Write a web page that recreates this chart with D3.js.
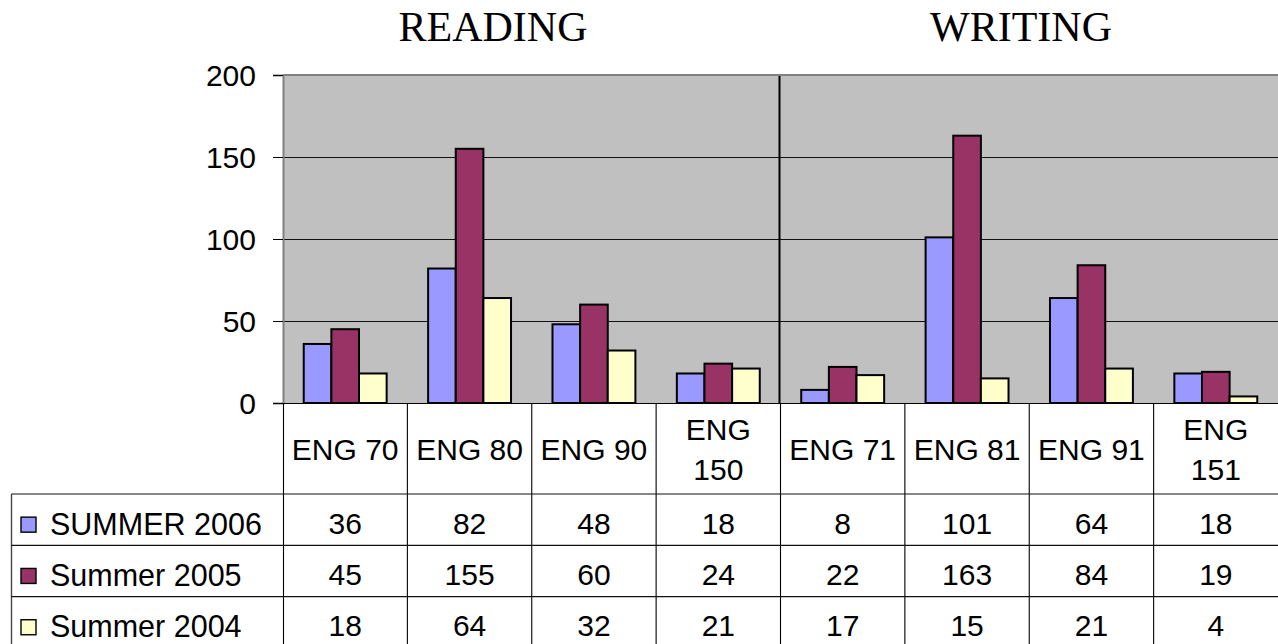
<!DOCTYPE html>
<html>
<head>
<meta charset="utf-8">
<script src="https://cdn.jsdelivr.net/npm/d3@7"></script>
<style>
  html, body { margin: 0; padding: 0; background: #fff; }
  svg { display: block; }
</style>
</head>
<body>
<svg id="chart" width="1278" height="644"></svg>
<script>
// ---- data ----
const categories = ["ENG 70", "ENG 80", "ENG 90", "ENG 150", "ENG 71", "ENG 81", "ENG 91", "ENG 151"];
const seriesNames = ["SUMMER 2006", "Summer 2005", "Summer 2004"];
const summer2006 = [36, 82, 48, 18, 8, 101, 64, 18];
const summer2005 = [45, 155, 60, 24, 22, 163, 84, 19];
const summer2004 = [18, 64, 32, 21, 17, 15, 21, 4];
const yTicks = [0, 50, 100, 150, 200];
const groupTitles = ["READING", "WRITING"];

const seriesValues = [summer2006, summer2005, summer2004];
const colors = ["#9999FF", "#993366", "#FFFFCC"];

// ---- layout ----
const svg = d3.select("#chart");
const plotL = 283, plotR = 1278, plotT = 75, plotB = 403;
const tableL = 11.5;
const rowH = 51.3;
const headerBottom = 494;
const sansFont = "'Liberation Sans', Arial, sans-serif";
const serifFont = "'Liberation Serif', 'Times New Roman', serif";

const x = d3.scaleBand().domain(categories).range([plotL, plotR]).paddingInner(0).paddingOuter(0);
const xs = d3.scaleBand().domain(seriesNames).range([0, x.bandwidth()]).paddingInner(0).paddingOuter(0.75);
const y = d3.scaleLinear().domain([0, 200]).range([plotB, plotT]);

// plot background
svg.append("rect").attr("x", plotL).attr("y", plotT).attr("width", plotR - plotL).attr("height", plotB - plotT)
  .attr("fill", "#C0C0C0");

// gridlines
svg.append("g").selectAll("line").data(yTicks.filter(d => d > 0 && d < 200)).join("line")
  .attr("x1", plotL).attr("x2", plotR)
  .attr("y1", d => Math.round(y(d)) + 0.5).attr("y2", d => Math.round(y(d)) + 0.5)
  .attr("stroke", "#111").attr("stroke-width", 1);

// top border (gray)
svg.append("line").attr("x1", plotL).attr("x2", plotR).attr("y1", plotT).attr("y2", plotT)
  .attr("stroke", "#808080").attr("stroke-width", 2);

// divider between READING and WRITING
const divX = x(categories[4]) - 1;
svg.append("line").attr("x1", divX).attr("x2", divX).attr("y1", plotT + 1).attr("y2", plotB)
  .attr("stroke", "#000").attr("stroke-width", 2);

// bars
const barG = svg.append("g");
seriesValues.forEach((vals, si) => {
  barG.append("g").selectAll("rect").data(vals).join("rect")
    .attr("x", (d, i) => x(categories[i]) + xs(seriesNames[si]))
    .attr("y", d => y(d))
    .attr("width", xs.bandwidth())
    .attr("height", d => plotB - y(d))
    .attr("fill", colors[si])
    .attr("stroke", "#000")
    .attr("stroke-width", 2);
});

// y axis
const yAxis = d3.axisLeft(y).tickValues(yTicks).tickSize(10).tickPadding(17);
const yg = svg.append("g").attr("transform", `translate(${plotL},0)`).call(yAxis);
yg.select(".domain").attr("stroke", "#808080").attr("stroke-width", 2);
yg.selectAll(".tick line").attr("stroke", "#000");
yg.selectAll(".tick text").attr("font-family", sansFont).attr("font-size", 30).attr("fill", "#000")
  .attr("dy", "0.36em");

// baseline (x axis)
svg.append("line").attr("x1", plotL - 10).attr("x2", plotR).attr("y1", plotB + 0.5).attr("y2", plotB + 0.5)
  .attr("stroke", "#000").attr("stroke-width", 1.2);

// group titles
const titleX = [493, 1021];
svg.append("g").selectAll("text").data(groupTitles).join("text")
  .attr("x", (d, i) => titleX[i]).attr("y", 41)
  .attr("text-anchor", "middle")
  .attr("font-family", serifFont).attr("font-size", 42).attr("fill", "#000")
  .text(d => d);

// ---- data table ----
const tableBottom = 644;
const tg = svg.append("g");
// vertical lines at category boundaries
const bounds = categories.map(c => x(c)).concat([plotR]);
tg.selectAll("line.v").data(bounds.slice(1, -1)).join("line")
  .attr("class", "v")
  .attr("x1", d => d).attr("x2", d => d)
  .attr("y1", plotB).attr("y2", tableBottom)
  .attr("stroke", "#000").attr("stroke-width", 1.1);
// plot-left boundary below axis
tg.append("line").attr("x1", plotL + 0.5).attr("x2", plotL + 0.5).attr("y1", plotB).attr("y2", tableBottom)
  .attr("stroke", "#000").attr("stroke-width", 1.1);
// left border of table
tg.append("line").attr("x1", tableL).attr("x2", tableL).attr("y1", headerBottom).attr("y2", tableBottom)
  .attr("stroke", "#444").attr("stroke-width", 1.4);
// horizontal row lines
const rowTops = seriesNames.map((s, i) => headerBottom + i * rowH);
tg.selectAll("line.h").data(rowTops).join("line")
  .attr("class", "h")
  .attr("x1", tableL).attr("x2", plotR)
  .attr("y1", d => d).attr("y2", d => d)
  .attr("stroke", "#111").attr("stroke-width", 1.2);

// category header labels (wrap if too wide)
const headerMid = (plotB + headerBottom) / 2;
const measure = svg.append("text").attr("font-family", sansFont).attr("font-size", 30).attr("visibility", "hidden");
categories.forEach(c => {
  measure.text(c);
  const w = measure.node().getComputedTextLength();
  const lines = (w > x.bandwidth() - 10) ? c.split(" ") : [c];
  const lh = 40;
  const t = tg.append("text")
    .attr("x", x(c) + x.bandwidth() / 2)
    .attr("text-anchor", "middle")
    .attr("font-family", sansFont).attr("font-size", 30).attr("fill", "#000");
  lines.forEach((ln, i) => {
    t.append("tspan")
      .attr("x", x(c) + x.bandwidth() / 2)
      .attr("y", headerMid + (i - (lines.length - 1) / 2) * lh + 11)
      .text(ln);
  });
});
measure.remove();

// rows: legend key + values
seriesNames.forEach((s, si) => {
  const cy = rowTops[si] + rowH / 2 + 5;
  tg.append("rect").attr("x", 21).attr("y", cy - 7.5).attr("width", 15).attr("height", 15)
    .attr("fill", colors[si]).attr("stroke", "#000").attr("stroke-width", 1.4);
  tg.append("text").attr("x", 50).attr("y", cy + 10)
    .attr("font-family", sansFont).attr("font-size", 30.5).attr("fill", "#000").text(s);
  tg.append("g").selectAll("text").data(seriesValues[si]).join("text")
    .attr("x", (d, i) => x(categories[i]) + x.bandwidth() / 2)
    .attr("y", cy + 9)
    .attr("text-anchor", "middle")
    .attr("font-family", sansFont).attr("font-size", 30).attr("fill", "#000")
    .text(d => d);
});
</script>
</body>
</html>
